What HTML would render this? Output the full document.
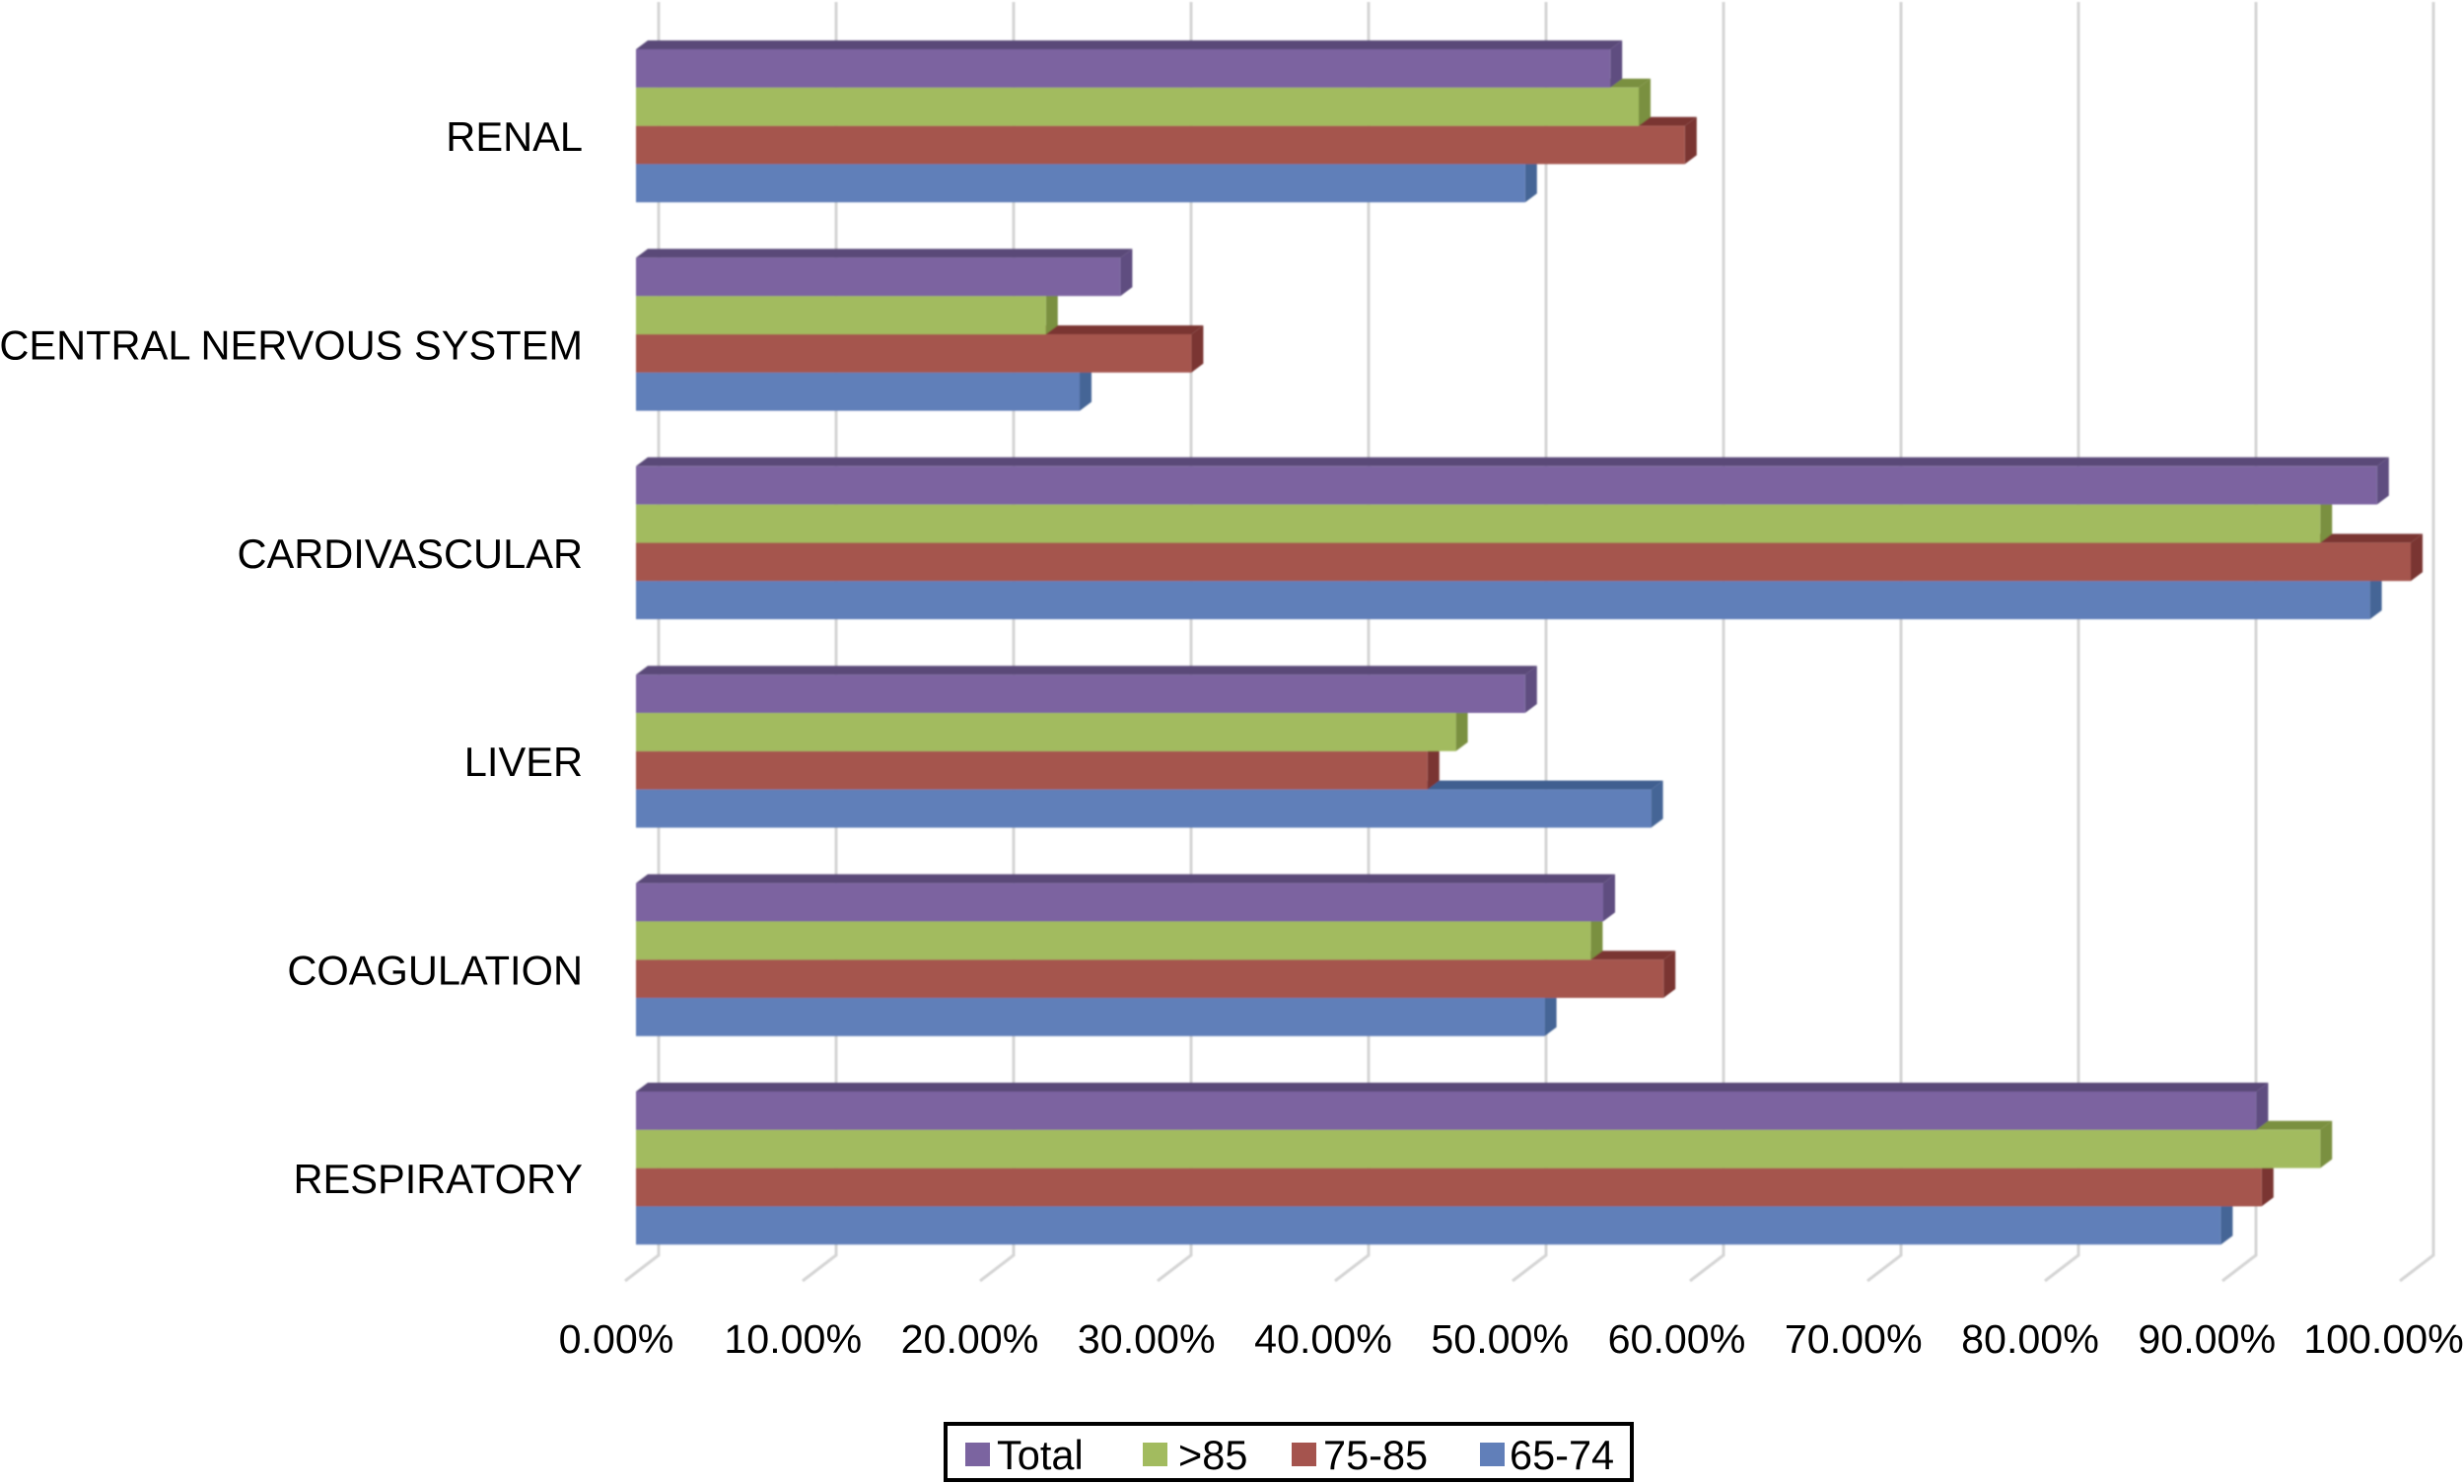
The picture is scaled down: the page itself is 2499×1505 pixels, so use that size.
<!DOCTYPE html>
<html lang="en">
<head>
<meta charset="utf-8">
<title>Organ dysfunction by age group</title>
<style>
  html, body { margin: 0; padding: 0; background: #fff; }
  body { width: 2499px; height: 1505px; overflow: hidden; }
  svg { display: block; font-family: "Liberation Sans", Arial, sans-serif; }
  text { fill: #000; }
</style>
</head>
<body>
<svg id="chart" xmlns="http://www.w3.org/2000/svg" width="2499" height="1505" viewBox="0 0 2499 1505">
  <defs>
    <filter id="soft" x="-2%" y="-2%" width="104%" height="104%">
      <feGaussianBlur stdDeviation="0.8"/>
    </filter>
  </defs>
  <g id="grid" filter="url(#soft)"></g>
  <g id="bars" filter="url(#soft)"></g>
  <g id="ylabels"></g>
  <g id="xlabels"></g>
  <g id="legend">
    <rect x="959" y="1444" width="696" height="57" fill="#fff" stroke="#000" stroke-width="4"/>
    <rect x="979" y="1463" width="25" height="24" fill="#7b64a0"/>
    <text x="1011" y="1490" font-size="41.5">Total</text>
    <rect x="1159" y="1463" width="25" height="24" fill="#a2bb5f"/>
    <text x="1195" y="1490" font-size="41.5">&gt;85</text>
    <rect x="1310" y="1463" width="25" height="24" fill="#a5544e"/>
    <text x="1342" y="1490" font-size="41.5">75-85</text>
    <rect x="1501" y="1463" width="25" height="24" fill="#617fb9"/>
    <text x="1531" y="1490" font-size="41.5">65-74</text>
  </g>
</svg>
<script>
const categories = ["RENAL", "CENTRAL NERVOUS SYSTEM", "CARDIVASCULAR", "LIVER", "COAGULATION", "RESPIRATORY"];
const seriesNames = ["total", "over-85", "75-85", "65-74"];
const totalValues = [54.9, 27.3, 98.1, 50.1, 54.5, 91.3];
const over85Values = [56.5, 23.1, 94.9, 46.2, 53.8, 94.9];
const age75to85Values = [59.1, 31.3, 100.0, 44.6, 57.9, 91.6];
const age65to74Values = [50.1, 25.0, 97.7, 57.2, 51.2, 89.3];
const tickValues = [0, 10, 20, 30, 40, 50, 60, 70, 80, 90, 100];
const tickLabels = ["0.00%", "10.00%", "20.00%", "30.00%", "40.00%", "50.00%", "60.00%", "70.00%", "80.00%", "90.00%", "100.00%"];

const seriesValues = [totalValues, over85Values, age75to85Values, age65to74Values];
const faceColors = ["#7b64a0", "#a2bb5f", "#a5544e", "#617fb9"];
const topColors = ["#5a4878", "#7a9040", "#7a3632", "#3f5f90"];
const sideColors = ["#5f4d80", "#7a9040", "#7a3632", "#456596"];

const SVG_NS = "http://www.w3.org/2000/svg";
const DEPTH_X = 12;
const DEPTH_Y = 9;
const BAND = 38.8;
const PITCH = 211.4;

function barX(v) { return 645 + v * 18; }
function gridX(v) { return 668 + v * 18; }
function tickX(v) { return 625 + v * 17.925; }
function bandTop(c, s) { return 50 + PITCH * c + s * BAND; }
function labelBaseline(c) { return 153 + PITCH * c; }

function make(tag, attrs, parent) {
  const el = document.createElementNS(SVG_NS, tag);
  for (const k in attrs) el.setAttribute(k, attrs[k]);
  parent.appendChild(el);
  return el;
}

const gridGroup = document.getElementById("grid");
const barsGroup = document.getElementById("bars");
const yGroup = document.getElementById("ylabels");
const xGroup = document.getElementById("xlabels");

tickValues.forEach(function (v, i) {
  const x = gridX(v);
  const line = make("polyline", {
    points: x + ",2 " + x + ",1273 " + (x - 34) + ",1299",
    fill: "none", stroke: "#d4d4d4", "stroke-width": 3
  }, gridGroup);
  
  

  const t = make("text", {
    x: tickX(v), y: 1372, "text-anchor": "middle", "font-size": 41.2
  }, xGroup);
  
  
  t.textContent = tickLabels[i];
});

categories.forEach(function (name, c) {
  const t = make("text", {
    x: 591, y: labelBaseline(c), "text-anchor": "end", "font-size": 41.6
  }, yGroup);
  
  
  t.textContent = name;

  for (let s = seriesValues.length - 1; s >= 0; s--) {
    const x0 = barX(0);
    const x1 = barX(seriesValues[s][c]);
    const y0 = bandTop(c, s);
    const y1 = y0 + BAND;
    const g = make("g", {}, barsGroup);
    
    
    make("polygon", {
      points: x0 + "," + y0 + " " + (x0 + DEPTH_X) + "," + (y0 - DEPTH_Y) + " " +
              (x1 + DEPTH_X) + "," + (y0 - DEPTH_Y) + " " + x1 + "," + y0,
      fill: topColors[s]
    }, g);
    make("polygon", {
      points: x1 + "," + y0 + " " + (x1 + DEPTH_X) + "," + (y0 - DEPTH_Y) + " " +
              (x1 + DEPTH_X) + "," + (y1 - DEPTH_Y) + " " + x1 + "," + y1,
      fill: sideColors[s]
    }, g);
    make("rect", {
      x: x0, y: y0, width: x1 - x0, height: BAND, fill: faceColors[s]
    }, g);
  }
});
</script>
</body>
</html>
